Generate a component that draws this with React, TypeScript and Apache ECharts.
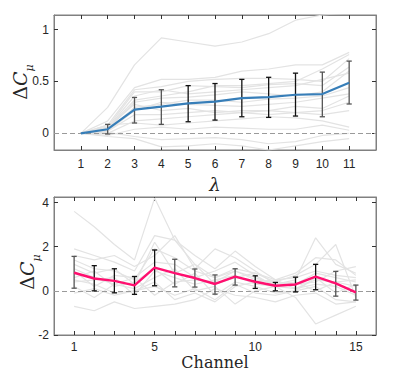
import React, { useEffect, useRef } from "react";
import * as echarts from "echarts";

// ---- Top panel data (lambda) ----
const lambdas = [1, 2, 3, 4, 5, 6, 7, 8, 9, 10, 11];
const topMean = [0, 0.04, 0.228, 0.257, 0.289, 0.305, 0.34, 0.35, 0.372, 0.379, 0.488];
const topErrHi = [0, 0.087, 0.346, 0.42, 0.46, 0.48, 0.52, 0.54, 0.58, 0.59, 0.696];
const topErrLo = [0, -0.006, 0.1, 0.087, 0.112, 0.128, 0.16, 0.154, 0.167, 0.16, 0.283];
const topGray = [
  [0, 0.25, 0.66, 0.92, 0.88, 0.84, 0.88, 0.96, 1.09, 1.14, 1.16],
  [0, 0.12, 0.44, 0.52, 0.52, 0.54, 0.6, 0.62, 0.66, 0.66, 0.78],
  [0, 0.08, 0.42, 0.45, 0.5, 0.52, 0.53, 0.53, 0.52, 0.5, 0.72],
  [0, 0.06, 0.4, 0.4, 0.46, 0.45, 0.44, 0.47, 0.48, 0.46, 0.64],
  [0, 0.05, 0.36, 0.42, 0.38, 0.4, 0.42, 0.44, 0.46, 0.52, 0.58],
  [0, 0.04, 0.3, 0.34, 0.35, 0.37, 0.4, 0.38, 0.36, 0.4, 0.6],
  [0, 0.03, 0.25, 0.28, 0.32, 0.32, 0.3, 0.33, 0.34, 0.36, 0.44],
  [0, 0.02, 0.22, 0.3, 0.28, 0.27, 0.26, 0.28, 0.3, 0.34, 0.38],
  [0, 0.06, 0.28, 0.22, 0.24, 0.2, 0.22, 0.22, 0.26, 0.24, 0.36],
  [0, 0.02, 0.18, 0.18, 0.2, 0.22, 0.2, 0.18, 0.2, 0.22, 0.3],
  [0, 0.0, 0.12, 0.14, 0.16, 0.18, 0.2, 0.22, 0.2, 0.18, 0.22],
  [0, 0.08, 0.1, 0.08, 0.1, 0.12, 0.14, 0.16, 0.15, 0.12, 0.06],
  [0, -0.02, 0.04, 0.06, 0.04, 0.06, 0.05, 0.04, 0.04, 0.08, 0.03],
  [0, 0.01, -0.03, -0.06, -0.05, -0.04, -0.06, -0.1, -0.08, -0.02, 0.0],
  [0, -0.03, -0.05, -0.13, -0.12, -0.1, -0.12, -0.16, -0.12, -0.08, -0.05],
  [0, 0.05, 0.32, 0.36, 0.4, 0.46, 0.46, 0.48, 0.5, 0.62, 0.76],
];
const topYTicks = [0, 0.5, 1];

// ---- Bottom panel data (channel) ----
const channels = [1, 2, 3, 4, 5, 6, 7, 8, 9, 10, 11, 12, 13, 14, 15];
const botMean = [0.82, 0.56, 0.45, 0.25, 1.05, 0.8, 0.58, 0.31, 0.64, 0.41, 0.23, 0.29, 0.64, 0.34, -0.07];
const botErrHi = [1.56, 1.14, 1.0, 0.65, 1.85, 1.43, 0.99, 0.72, 1.0, 0.68, 0.38, 0.62, 1.2, 0.88, 0.26];
const botErrLo = [0.12, 0.0, -0.09, -0.16, 0.23, 0.18, 0.17, -0.15, 0.26, 0.11, 0.0, -0.05, 0.05, -0.24, -0.42];
const botGray = [
  [3.6, 2.9, 2.1, 1.4, 4.2, 2.3, 1.2, 0.6, 0.9, 0.5, 0.4, 0.3, 0.8, 0.6, 0.4],
  [1.9, 1.6, 1.3, 0.9, 2.5, 2.3, 1.6, 1.0, 1.8, 1.1, 0.5, 0.6, 0.9, 0.7, 0.6],
  [1.6, 1.4, 1.6, 1.1, 1.6, 2.5, 1.0, 1.9, 1.5, 0.9, 0.3, 0.5, 2.4, 1.2, 0.8],
  [1.2, 0.8, 1.0, 0.3, 2.2, 0.8, 1.2, 0.3, 0.6, 0.8, 0.4, 0.7, 1.2, 2.1, -0.3],
  [0.9, 0.2, 0.7, 0.6, 1.3, 1.2, 0.6, 0.9, 1.3, 0.7, 0.2, 0.3, 0.4, 0.9, 1.1],
  [0.6, 0.9, 0.2, 0.4, 1.0, 0.3, 0.8, -0.2, 0.4, 0.2, -0.1, 0.0, 0.6, -0.1, 0.3],
  [0.4, 0.5, 0.6, -0.2, 0.9, 0.6, 0.3, 0.5, 0.7, 0.3, 0.2, 0.1, 0.3, 0.2, -0.2],
  [0.2, -0.3, 0.3, 0.1, 0.6, 1.0, 0.0, 0.2, -0.6, 0.0, 0.2, -0.3, -1.5, -1.1, -0.7],
  [-0.1, 0.1, -0.2, 0.0, 0.4, -0.4, -0.1, -0.5, 0.2, 0.4, 0.5, 0.1, 0.5, 0.4, 0.2],
  [-0.7, -0.9, -0.5, -0.8, -0.7, -0.6, -0.4, 0.1, -0.2, -0.3, -0.5, -0.2, -0.1, -0.6, -0.5],
  [1.0, 0.6, 0.3, 0.6, -0.2, 0.4, 0.5, 0.4, 0.9, 0.6, 0.3, 0.4, 0.0, 0.4, 0.5],
  [0.5, 0.3, -0.1, 0.0, 0.2, -0.2, 0.1, -0.4, 0.3, -0.1, -0.2, 0.0, 0.2, -0.4, -0.5],
  [1.4, 1.0, 0.9, 0.5, 1.9, 1.5, 0.9, 0.6, 1.0, 0.8, 0.5, 0.8, 1.5, 1.4, 0.7],
];
const botXLabels = [1, 5, 10, 15];
const botYTicks = [-2, 0, 2, 4];

// styles (not data)
const topErrColors = ["#555", "#555", "#555", "#555", "#111", "#111", "#111", "#111", "#111", "#555", "#555"];
const botErrColors = ["#555", "#111", "#111", "#111", "#111", "#555", "#555", "#555", "#555", "#111", "#111", "#111", "#111", "#555", "#555"];

const LABEL_FONT = "'Liberation Sans', Arial, Helvetica, sans-serif";
const SERIF = "'DejaVu Serif', 'Liberation Serif', serif";

function errSeries(name: string, xi: number, xs: number[], lo: number[], hi: number[], colors: string[]) {
  return {
    name,
    type: "custom",
    xAxisIndex: xi,
    yAxisIndex: xi,
    silent: true,
    z: 5,
    data: xs.map((x, i) => [x, lo[i], hi[i], i]),
    renderItem: (_params: any, api: any) => {
      const x = api.value(0);
      if (api.value(1) === api.value(2)) return null;
      const p1 = api.coord([x, api.value(1)]);
      const p2 = api.coord([x, api.value(2)]);
      const c = colors[api.value(3)] || "#111";
      const w = 2.6;
      const style = { stroke: c, lineWidth: 1.3 };
      return {
        type: "group",
        children: [
          { type: "line", shape: { x1: p1[0], y1: p1[1], x2: p2[0], y2: p2[1] }, style },
          { type: "line", shape: { x1: p1[0] - w, y1: p1[1], x2: p1[0] + w, y2: p1[1] }, style },
          { type: "line", shape: { x1: p2[0] - w, y1: p2[1], x2: p2[0] + w, y2: p2[1] }, style },
        ],
      };
    },
  };
}

export default function App() {
  const ref = useRef<HTMLDivElement>(null);
  useEffect(() => {
    if (!ref.current) return;
    const chart = echarts.init(ref.current, undefined, { renderer: "svg" });
    const axisLine = { show: true, onZero: false, lineStyle: { color: "#808080", width: 1 } };
    const tick = (vals: number[]) => ({
      show: true,
      inside: true,
      length: 4,
      customValues: vals,
      lineStyle: { color: "#333", width: 1 },
    });
    const lab = (vals: number[], margin: number) => ({
      show: true,
      customValues: vals,
      color: "#262626",
      fontSize: 12,
      fontFamily: LABEL_FONT,
      margin,
      formatter: (v: number) => String(v),
    });
    const hid = (vals: number[]) => ({ show: false, customValues: vals });
    const topXTicks = lambdas;
    const botXTicks = channels;
    const yRich = {
      d: { fontFamily: SERIF, fontSize: 19, fill: "#262626", lineHeight: 20, verticalAlign: "top" },
      c: { fontFamily: SERIF, fontSize: 19, fontStyle: "italic", fill: "#262626", lineHeight: 20, verticalAlign: "top" },
      m: {
        fontFamily: SERIF, fontSize: 11, fontStyle: "italic", fill: "#262626",
        lineHeight: 12, verticalAlign: "top", padding: [13, 0, 0, 0],
      },
    };
    const yLabel = (x: number, y: number) => ({
      type: "text",
      x,
      y,
      rotation: Math.PI / 2,
      silent: true,
      style: {
        text: "{d|Δ}{c|C}{m|μ}",
        rich: yRich,
        align: "center",
        verticalAlign: "middle",
      },
    });
    const zeroLine = {
      silent: true,
      symbol: "none",
      label: { show: false },
      lineStyle: { color: "#9a9a9a", type: [5, 3], width: 1 },
      data: [{ yAxis: 0 }],
    };
    const option: any = {
      animation: false,
      backgroundColor: "#fff",
      grid: [
        {
          left: 54, top: 15, width: 322, height: 135, show: true, borderColor: "#808080", borderWidth: 1,
          containLabel: false, outerBoundsMode: "none",
        },
        {
          left: 54, top: 197, width: 322, height: 138, show: true, borderColor: "#808080", borderWidth: 1,
          containLabel: false, outerBoundsMode: "none",
        },
      ],
      graphic: [yLabel(20.5, 82), yLabel(27.5, 272)],
      xAxis: [
        {
          type: "value", gridIndex: 0, min: 0, max: 12, position: "bottom",
          axisLine, axisTick: tick(topXTicks), axisLabel: lab(lambdas, 8), splitLine: { show: false },
          name: "λ", nameLocation: "middle", nameGap: 25,
          nameTextStyle: { fontFamily: SERIF, fontSize: 18, fontStyle: "italic", color: "#262626" },
        },
        {
          type: "value", gridIndex: 1, min: 0, max: 16, position: "bottom",
          axisLine, axisTick: tick(botXTicks), axisLabel: lab(botXLabels, 6), splitLine: { show: false },
          name: "Channel", nameLocation: "middle", nameGap: 19,
          nameTextStyle: { fontFamily: SERIF, fontSize: 16, color: "#262626" },
        },
        {
          type: "value", gridIndex: 0, min: 0, max: 12, position: "top",
          axisLine, axisTick: tick(topXTicks), axisLabel: hid(topXTicks), splitLine: { show: false },
        },
        {
          type: "value", gridIndex: 1, min: 0, max: 16, position: "top",
          axisLine, axisTick: tick(botXTicks), axisLabel: hid(botXTicks), splitLine: { show: false },
        },
      ],
      yAxis: [
        {
          type: "value", gridIndex: 0, min: -0.16, max: 1.14, position: "left",
          axisLine, axisTick: tick(topYTicks), axisLabel: lab(topYTicks, 5), splitLine: { show: false },
        },
        {
          type: "value", gridIndex: 1, min: -2, max: 4.25, position: "left",
          axisLine, axisTick: tick(botYTicks), axisLabel: lab(botYTicks, 5), splitLine: { show: false },
        },
        {
          type: "value", gridIndex: 0, min: -0.16, max: 1.14, position: "right",
          axisLine, axisTick: tick(topYTicks), axisLabel: hid(topYTicks), splitLine: { show: false },
        },
        {
          type: "value", gridIndex: 1, min: -2, max: 4.25, position: "right",
          axisLine, axisTick: tick(botYTicks), axisLabel: hid(botYTicks), splitLine: { show: false },
        },
      ],
      series: [
        ...topGray.map((g, k) => ({
          type: "line", xAxisIndex: 0, yAxisIndex: 0, silent: true, symbol: "none", z: 1,
          data: lambdas.map((x, i) => [x, g[i]]),
          lineStyle: { color: "#e3e3e3", width: 1.2 },
          ...(k === 0 ? { markLine: zeroLine } : {}),
        })),
        ...botGray.map((g, k) => ({
          type: "line", xAxisIndex: 1, yAxisIndex: 1, silent: true, symbol: "none", z: 1,
          data: channels.map((x, i) => [x, g[i]]),
          lineStyle: { color: "#e3e3e3", width: 1.2 },
          ...(k === 0 ? { markLine: zeroLine } : {}),
        })),
        errSeries("topErr", 0, lambdas, topErrLo, topErrHi, topErrColors),
        errSeries("botErr", 1, channels, botErrLo, botErrHi, botErrColors),
        {
          type: "line", xAxisIndex: 0, yAxisIndex: 0, silent: true, symbol: "none", z: 6,
          data: lambdas.map((x, i) => [x, topMean[i]]),
          lineStyle: { color: "#377eb8", width: 2.2 },
        },
        {
          type: "line", xAxisIndex: 1, yAxisIndex: 1, silent: true, symbol: "none", z: 6,
          data: channels.map((x, i) => [x, botMean[i]]),
          lineStyle: { color: "#ff0f6f", width: 2.4 },
        },
      ],
    };
    chart.setOption(option);
    return () => chart.dispose();
  }, []);
  return (
    <div
      ref={ref}
      style={{ position: "fixed", left: 0, top: 0, width: 415, height: 386, background: "#fff" }}
    />
  );
}
